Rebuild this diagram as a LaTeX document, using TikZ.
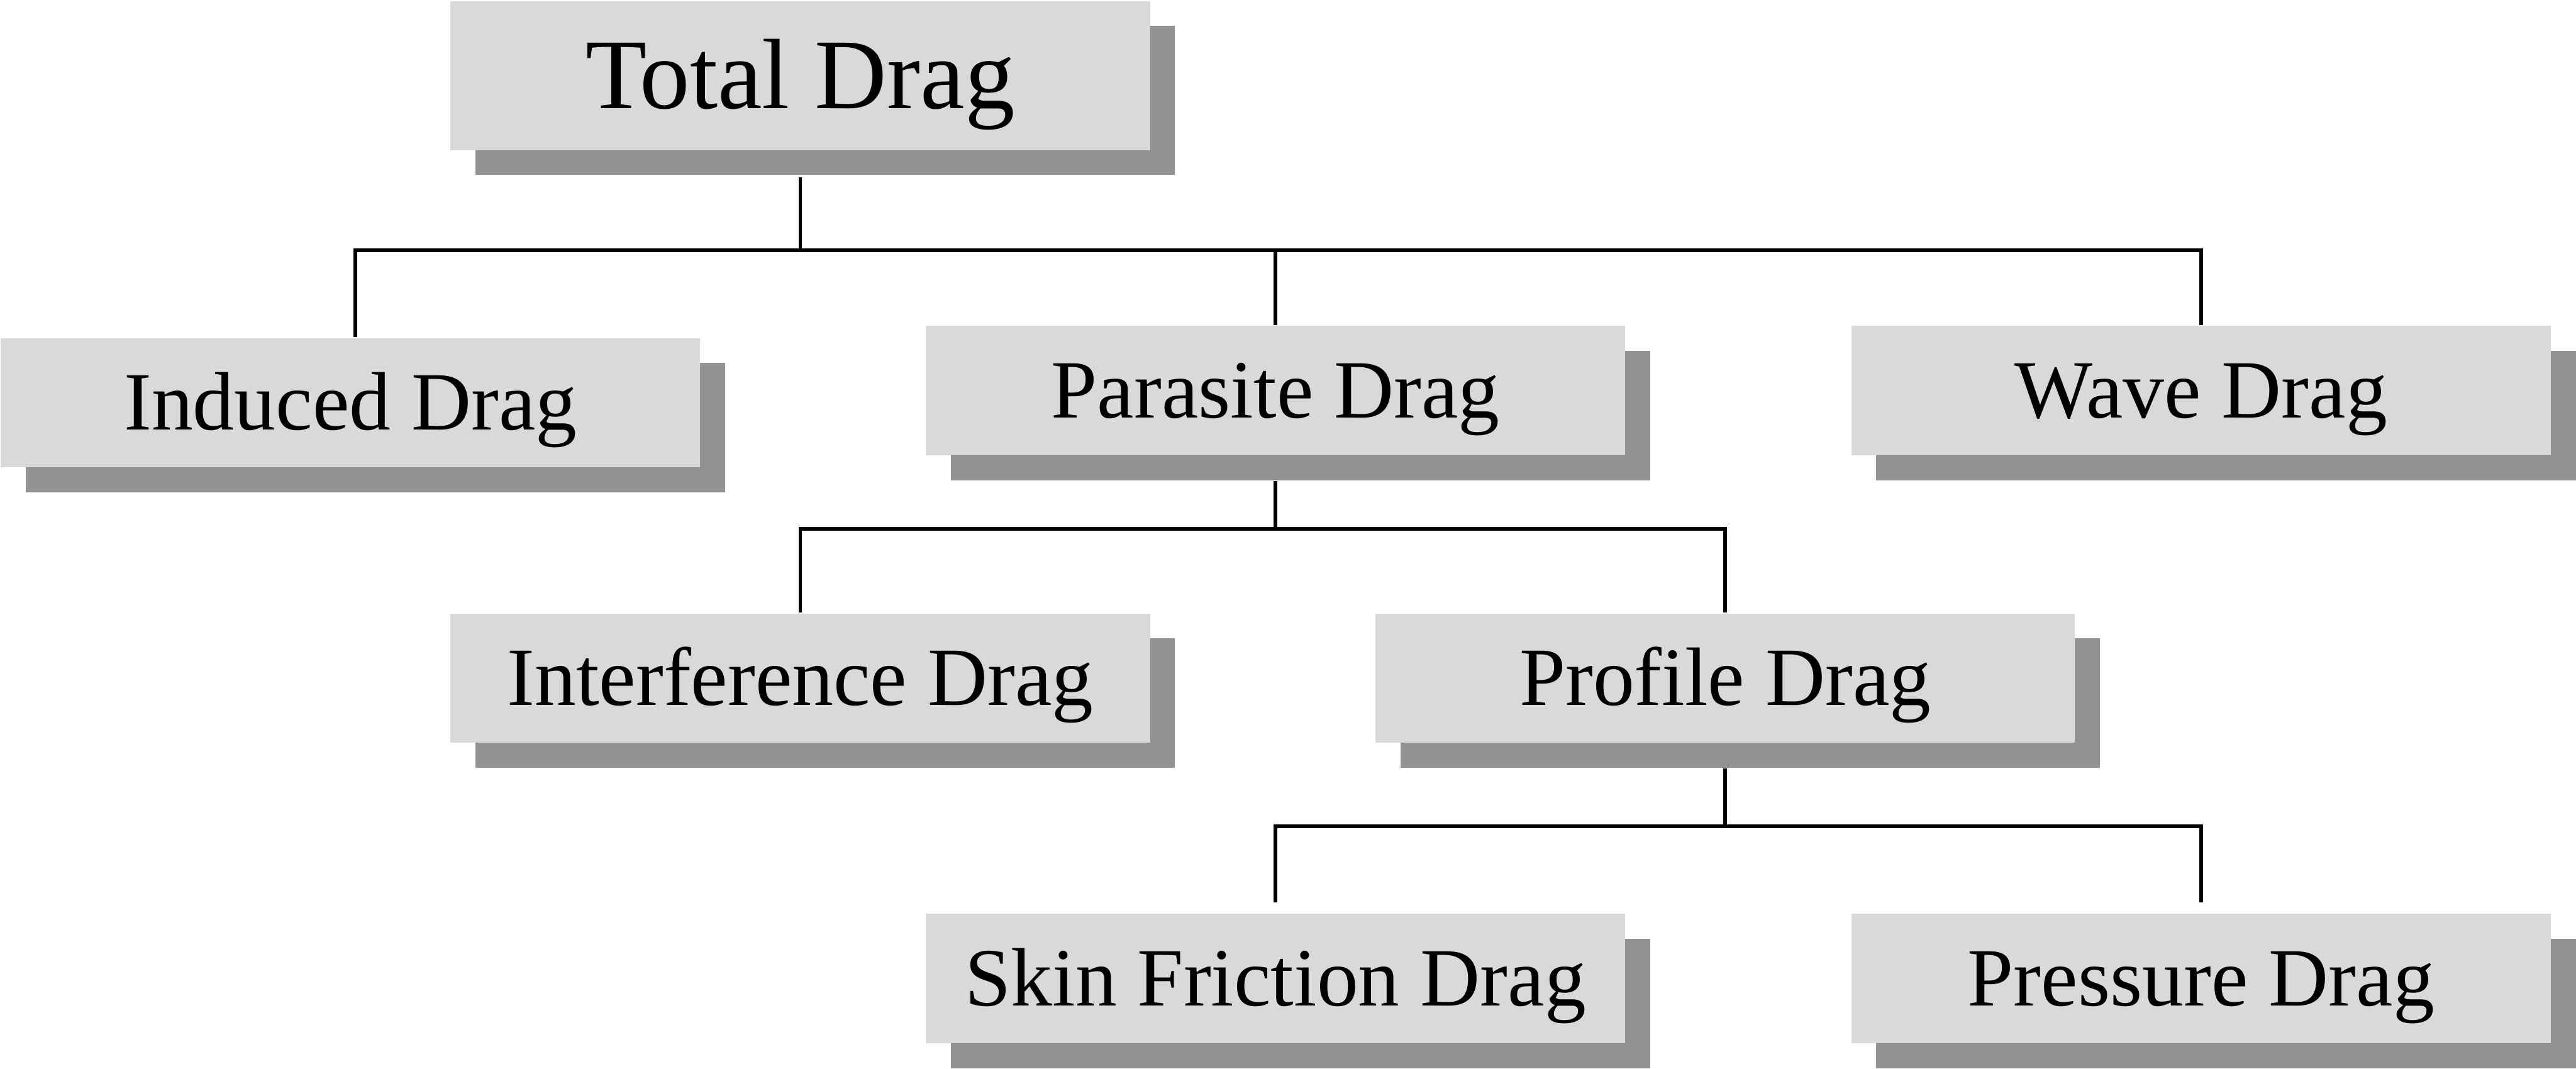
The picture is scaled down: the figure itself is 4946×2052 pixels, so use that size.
\documentclass[tikz,border=0pt]{standalone}
\usepackage{fontspec}
\setmainfont{Liberation Serif}
\usetikzlibrary{shadows}
\definecolor{boxgray}{RGB}{217,217,217}
\definecolor{shadowgray}{RGB}{146,146,146}
\begin{document}
\begin{tikzpicture}[x=0.1pt,y=-0.1pt,
  dragbox/.style={fill=boxgray, minimum width=134.3pt, minimum height=24.8pt, inner sep=0pt,
    text height=10.5pt, text depth=0pt, font=\fontsize{15.9pt}{18pt}\selectfont,
    drop shadow={shadow xshift=4.8pt, shadow yshift=-4.8pt, fill=shadowgray, opacity=1}},
  topbox/.style={dragbox, minimum height=28.6pt, text height=12.7pt, font=\fontsize{19.2pt}{22pt}\selectfont},
  link/.style={line width=0.7pt, line join=miter}]
\useasboundingbox (0,0) rectangle (4946,2052);
\node[topbox] (total) at (1536.5,145) {Total Drag};
\node[dragbox] (induced) at (673,773) {Induced Drag};
\node[dragbox] (parasite) at (2449,750) {Parasite Drag};
\node[dragbox] (wave) at (4226,750) {Wave Drag};
\node[dragbox] (interf) at (1536.5,1302) {Interference Drag};
\node[dragbox] (profile) at (3312.5,1302) {Profile Drag};
\node[dragbox] (skin) at (2449,1879) {Skin Friction Drag};
\node[dragbox] (pressure) at (4226,1879) {Pressure Drag};
\coordinate (j1) at (1536.5,481);
\coordinate (j2) at (2449,1015);
\coordinate (j3) at (3312.5,1587);
\draw[link] ([yshift=-5pt]total.south) -- (j1);
\draw[link] ([xshift=0.9pt]induced.north) |- (j1) -| (wave.north);
\draw[link] (j1 -| parasite.north) -- (parasite.north);
\draw[link] ([yshift=-4.8pt]parasite.south) -- (j2);
\draw[link] (interf.north) |- (j2) -| (profile.north);
\draw[link] ([yshift=-4.8pt]profile.south) -- (j3);
\draw[link] ([yshift=2pt]skin.north) |- (j3) -| ([yshift=2pt]pressure.north);
\end{tikzpicture}
\end{document}
